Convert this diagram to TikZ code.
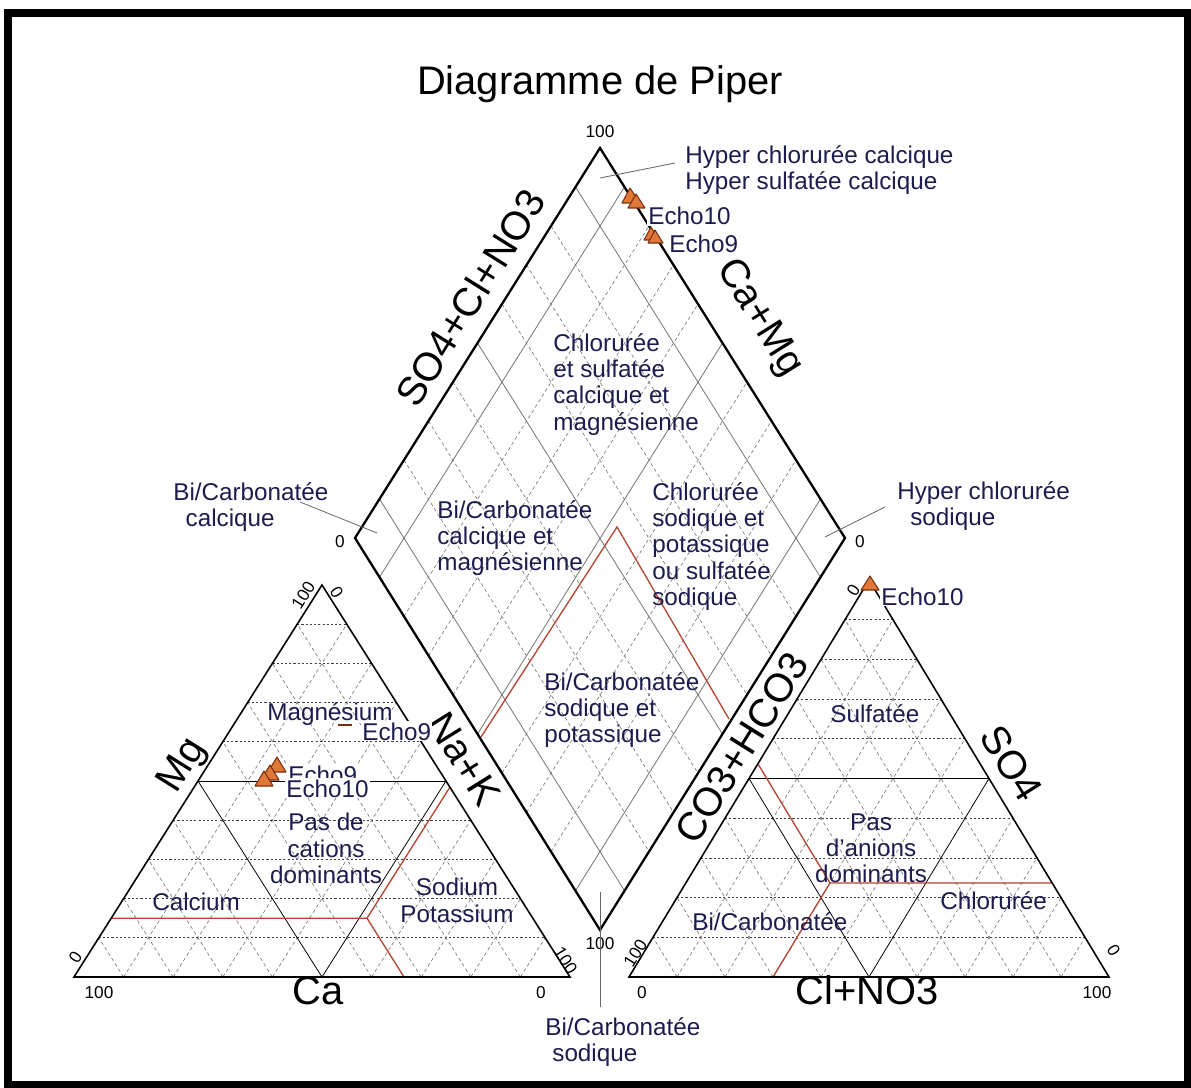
\documentclass[tikz,border=0pt]{standalone}
\usepackage{fontspec}
\setmainfont{Liberation Sans}
\usetikzlibrary{calc}
\definecolor{navy}{HTML}{1C1C4E}
\definecolor{redc}{HTML}{B5452F}
\definecolor{mkfill}{HTML}{E07838}
\definecolor{mkdraw}{HTML}{7A3010}
\newcommand\pipLab{\fontsize{13.8}{15}\selectfont}
\newcommand\pipAx{\fontsize{22.7}{26}\selectfont}
\newcommand\pipTk{\fontsize{9.8}{11}\selectfont}
\tikzset{
 frame/.style={line width=4.5pt},
 triedge/.style={line width=0.9pt, line join=miter},
 diaedge/.style={line width=1.3pt, line join=miter},
 hgrid/.style={black!75, line width=0.35pt, dash pattern=on 1.2pt off 1.2pt},
 dgrid/.style={black!55, line width=0.35pt, dash pattern=on 2pt off 1.6pt},
 sgrid/.style={black!55, line width=0.45pt},
 medl/.style={black, line width=0.45pt},
 redline/.style={draw=redc, line width=0.75pt},
 lab/.style={text=navy, font=\pipLab, inner sep=0pt, align=left},
 clab/.style={text=navy, font=\pipLab, inner sep=0pt, align=center},
 echolab/.style={text=navy, font=\pipLab, fill=white, inner sep=0.6pt, anchor=base west},
 axlab/.style={font=\pipAx, inner sep=0pt, text height=0.716em, text depth=0pt},
 tklab/.style={font=\pipTk, inner sep=0pt, text height=0.716em, text depth=0pt},
 ptr/.style={black!60, line width=0.45pt},
 mk/.style={fill=mkfill, draw=mkdraw, line width=0.6pt, line join=round},
}
\begin{document}
\begin{tikzpicture}[x=0.02cm,y=-0.02cm]
\useasboundingbox (0,0) rectangle (1191,1088);
\fill[white] (0,0) rectangle (1191,1088);
\draw[frame] (8,13) rectangle (1188,1085);

% corner coordinates
\coordinate (LA) at (74,977);
\coordinate (LB) at (570,977);
\coordinate (LC) at (322,585);
\coordinate (RA) at (629,977);
\coordinate (RB) at (1109,977);
\coordinate (RC) at (869,580);
\coordinate (DL) at (355,538);
\coordinate (DT) at (600,148);
\coordinate (DR) at (845,538);
\coordinate (DB) at (600,930);

% grids of the triangles
\foreach \f in {0.1,0.2,0.3,0.4,0.6,0.7,0.8,0.9}{
  \draw[hgrid] ($(LA)!\f!(LC)$) -- ($(LB)!\f!(LC)$);
  \draw[dgrid] ($(LA)!\f!(LB)$) -- ($(LC)!\f!(LB)$);
  \draw[dgrid] ($(LB)!\f!(LA)$) -- ($(LC)!\f!(LA)$);
  \draw[hgrid] ($(RA)!\f!(RC)$) -- ($(RB)!\f!(RC)$);
  \draw[dgrid] ($(RA)!\f!(RB)$) -- ($(RC)!\f!(RB)$);
  \draw[dgrid] ($(RB)!\f!(RA)$) -- ($(RC)!\f!(RA)$);
}
\foreach \f in {0.2,0.3,0.4,0.6,0.7,0.8}{
  \draw[dgrid] ($(DL)!\f!(DT)$) -- ($(DB)!\f!(DR)$);
  \draw[dgrid] ($(DL)!\f!(DB)$) -- ($(DT)!\f!(DR)$);
}
\foreach \f in {0.1,0.5,0.9}{
  \draw[sgrid] ($(DL)!\f!(DT)$) -- ($(DB)!\f!(DR)$);
  \draw[sgrid] ($(DL)!\f!(DB)$) -- ($(DT)!\f!(DR)$);
}
% medial lines
\draw[medl] ($(LA)!0.5!(LC)$) -- ($(LB)!0.5!(LC)$);
\draw[medl] ($(LA)!0.5!(LB)$) -- ($(LC)!0.5!(LB)$);
\draw[medl] ($(LB)!0.5!(LA)$) -- ($(LC)!0.5!(LA)$);
\draw[medl] ($(RA)!0.5!(RC)$) -- ($(RB)!0.5!(RC)$);
\draw[medl] ($(RA)!0.5!(RB)$) -- ($(RC)!0.5!(RB)$);
\draw[medl] ($(RB)!0.5!(RA)$) -- ($(RC)!0.5!(RA)$);

% red classification lines
\coordinate (lr0) at ($(LA)!0.15!(LC)$);
\coordinate (lrc) at (367,918.2);
\coordinate (lr1) at (450,787);
\coordinate (lr2) at (404,977);
\draw[redline] (lr0) -- (lrc) -- (lr1);
\draw[redline] (lrc) -- (lr2);
\coordinate (dr0) at (481,737);
\coordinate (drp) at (617,527);
\coordinate (dr1) at (729,719);
\draw[redline] (dr0) -- (drp) -- (dr1);
\coordinate (rrc) at (830,883);
\coordinate (rr0) at (758,764);
\coordinate (rr1) at (1052,883);
\coordinate (rr2) at (773,977);
\draw[redline] (rr0) -- (rrc) -- (rr1);
\draw[redline] (rrc) -- (rr2);

% outlines
\draw[triedge] (LA) -- (LB) -- (LC) -- cycle;
\draw[triedge] (RA) -- (RB) -- (RC) -- cycle;
\draw[diaedge] (DL) -- (DT) -- (DR) -- (DB) -- cycle;

% title
\node[font=\pipAx, inner sep=0pt, anchor=base] (title) at (600,95) {Diagramme de Piper};

% axis labels
\node[axlab, rotate=58] (axSO) at (477,302) {SO4+Cl+NO3};
\node[axlab, rotate=-58] (axCM) at (756,320) {Ca+Mg};
\node[axlab, rotate=58] (axMg) at (186,768) {Mg};
\node[axlab, rotate=-58] (axNa) at (458,763) {Na+K};
\node[axlab] (axCa) at (318,998) {Ca};
\node[axlab, rotate=58] (axCO) at (748,752) {CO3+HCO3};
\node[axlab, rotate=-58] (axS4) at (1005,767) {SO4};
\node[axlab] (axCl) at (867,998) {Cl+NO3};

% tick labels
\node[tklab] (t1) at (600,131) {100};
\node[tklab] (t2) at (340,541) {0};
\node[tklab] (t3) at (860,541) {0};
\node[tklab] (t4) at (600,943) {100};
\node[tklab, rotate=58] (t5) at (303,595) {100};
\node[tklab, rotate=-58] (t6) at (337,592) {0};
\node[tklab, rotate=58] (t7) at (75,957) {0};
\node[tklab, rotate=-58] (t8) at (566,960) {100};
\node[tklab] (t9) at (99,992) {100};
\node[tklab] (t10) at (541,992) {0};
\node[tklab, rotate=58] (t11) at (853,590) {0};
\node[tklab, rotate=58] (t12) at (635,953) {100};
\node[tklab, rotate=-58] (t13) at (1114,950) {0};
\node[tklab] (t14) at (642,992) {0};
\node[tklab] (t15) at (1097,992) {100};

% region labels
\node[lab, anchor=north west] (hcc) at (685,145) {Hyper chlorurée calcique\\Hyper sulfatée calcique};
\node[lab, anchor=north west] (csc) at (553,333) {Chlorurée\\et sulfatée\\calcique et\\magnésienne};
\node[lab, anchor=north west] (bcm) at (437,500) {Bi/Carbonatée\\calcique et\\magnésienne};
\node[lab, anchor=north west] (csp) at (652,482) {Chlorurée\\sodique et\\potassique\\ou sulfatée\\sodique};
\node[lab, anchor=north west] (bsp) at (544,672) {Bi/Carbonatée\\sodique et\\potassique};
\node[lab, anchor=north west] (bcc) at (173,482) {Bi/Carbonatée\\\hspace*{7pt}calcique};
\node[lab, anchor=north west] (hcs) at (897,481) {Hyper chlorurée\\\hspace*{7.4pt}sodique};
\node[lab, anchor=north west] (bcs) at (545,1017) {Bi/Carbonatée\\\hspace*{4pt}sodique};
\node[lab, anchor=base west] (mgn) at (267,720) {Magnésium};
\node[clab, anchor=north] (pdc) at (326,813) {Pas de\\cations\\dominants};
\node[lab, anchor=base west] (cal) at (152,910) {Calcium};
\node[clab, anchor=north] (sop) at (457,878) {Sodium\\Potassium};
\node[lab, anchor=base west] (sul) at (830,722) {Sulfatée};
\node[clab, anchor=north] (pda) at (871,813) {Pas\\d'anions\\dominants};
\node[lab, anchor=base west] (chl) at (940,909) {Chlorurée};
\node[lab, anchor=base west] (bca) at (692,930) {Bi/Carbonatée};

% pointer lines
\coordinate (p1a) at (600,178); \coordinate (p1b) at (675,163);
\coordinate (p2a) at (300,502); \coordinate (p2b) at (377,533);
\coordinate (p3a) at (825,537); \coordinate (p3b) at (885,507);
\coordinate (p4a) at (600,892); \coordinate (p4b) at (600,1007);
\draw[ptr] (p1a) -- (p1b);
\draw[ptr] (p2a) -- (p2b);
\draw[ptr] (p3a) -- (p3b);
\draw[ptr] (p4a) -- (p4b);

% sample labels
\node[echolab] (e9b) at (361,740) {Echo9};
\node[echolab] (e9c) at (287,783) {Echo9};
\node[echolab] (e10a) at (285,797) {Echo10};
\node[echolab] (e10b) at (647,225) {Echo10};
\node[echolab] (e9e) at (668,253) {Echo9};
\node[echolab] (e10c) at (880,605) {Echo10};

% sample markers
\draw[mkdraw, line width=1.4pt] (338,725) -- (352,725);
\draw[mk] (277,757) -- (286,772) -- (268,772) -- cycle;
\draw[mk] (270,765) -- (279,780) -- (261,780) -- cycle;
\draw[mk] (264,771) -- (273,786) -- (255,786) -- cycle;
\draw[mk] (630,188) -- (640,203) -- (622,203) -- cycle;
\draw[mk] (636,194) -- (645,208) -- (628,208) -- cycle;
\draw[mk] (651,227) -- (659,240) -- (644,240) -- cycle;
\draw[mk] (655,230) -- (663,243) -- (648,243) -- cycle;
\draw[mk] (870,576) -- (879,590) -- (861,590) -- cycle;
\end{tikzpicture}
\end{document}
